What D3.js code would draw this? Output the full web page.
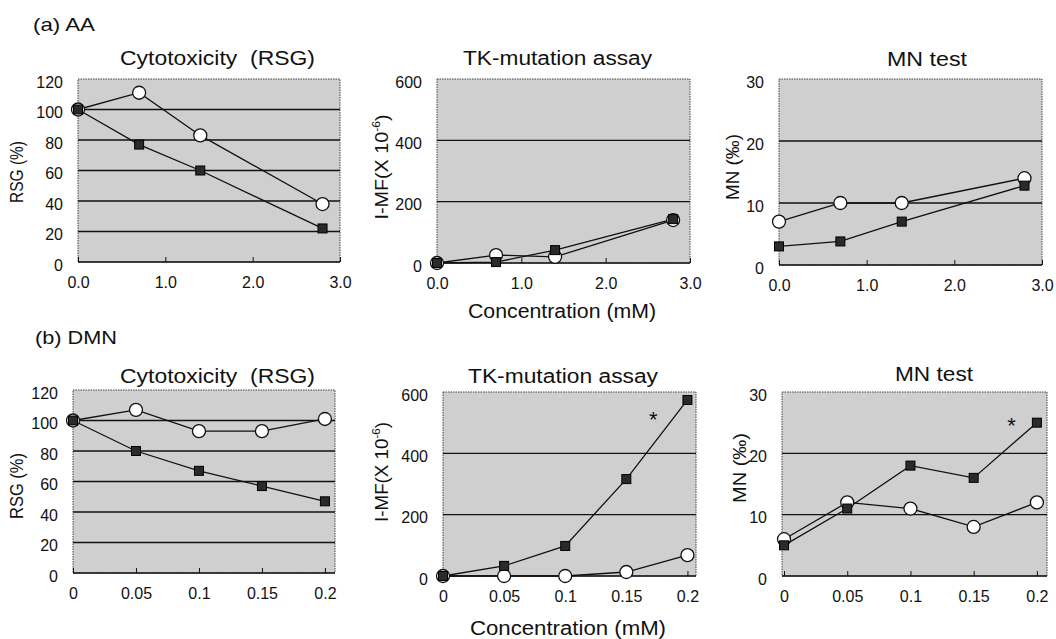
<!DOCTYPE html>
<html><head><meta charset="utf-8">
<script src="https://cdn.jsdelivr.net/npm/d3@7"></script>
<style>
html,body{margin:0;padding:0;background:#fff;}
svg{display:block;font-family:"Liberation Sans",Arial,sans-serif;}
text{white-space:pre;}
</style></head>
<body>
<svg id="c" width="1056" height="639"></svg>
<script>
// ---- data ----
const concA = [0, 0.7, 1.4, 2.8];
const concB = [0, 0.05, 0.1, 0.15, 0.2];
const aaRsgOpen   = [100, 111, 83, 38];
const aaRsgFilled = [100, 77, 60, 22];
const aaMfOpen    = [0, 26, 20, 140];
const aaMfFilled  = [0, 3, 42, 143];
const aaMnOpen    = [7, 10, 10, 14];
const aaMnFilled  = [3, 3.8, 7, 12.8];
const dmnRsgOpen   = [100, 107, 93, 93, 101];
const dmnRsgFilled = [100, 80, 67, 57, 47];
const dmnMfOpen    = [0, 0, 0, 13, 68];
const dmnMfFilled  = [0, 33, 98, 316, 574];
const dmnMnOpen    = [6, 12, 11, 8, 12];
const dmnMnFilled  = [5, 11, 18, 16, 25];
const xTicksA = [0, 1, 2, 3];
const xTickLabelsA = ["0.0", "1.0", "2.0", "3.0"];
const xTicksB = [0, 0.05, 0.1, 0.15, 0.2];
const xTickLabelsB = ["0", "0.05", "0.1", "0.15", "0.2"];
const yTicksRsg = [0, 20, 40, 60, 80, 100, 120];
const yTicksMf = [0, 200, 400, 600];
const yTicksMn = [0, 10, 20, 30];
const starMf = [0.172, 510];
const starMn = [0.18, 24.5];

const svg = d3.select("#c");

function fit(sel, len) {
  return sel.attr("textLength", len).attr("lengthAdjust", "spacingAndGlyphs");
}

const panels = [
  {box:[78,79,340,262], x:[0,3], xt:xTicksA, xl:xTickLabelsA, y:[0,120], yt:yTicksRsg, conc:concA, open:aaRsgOpen, filled:aaRsgFilled,
   title:"Cytotoxicity  (RSG)", tx:217.5, ty:65, tw:195, ylab:"RSG (%)", ylx:17, yly:172, ylw:62},
  {box:[437,79,690,263], x:[0,3], xt:xTicksA, xl:xTickLabelsA, y:[0,600], yt:yTicksMf, conc:concA, open:aaMfOpen, filled:aaMfFilled,
   title:"TK-mutation assay", tx:557.5, ty:65, tw:189, ylab:"mf", ylx:382, yly:167, ylw:105},
  {box:[779,79,1042,265], x:[0,3], xt:xTicksA, xl:xTickLabelsA, y:[0,30], yt:yTicksMn, conc:concA, open:aaMnOpen, filled:aaMnFilled,
   title:"MN test", tx:927, ty:66, tw:80, ylab:"MN (‰)", ylx:733, yly:167, ylw:66},
  {box:[73,390,335,573], x:[0,0.208], xt:xTicksB, xl:xTickLabelsB, y:[0,120], yt:yTicksRsg, conc:concB, open:dmnRsgOpen, filled:dmnRsgFilled,
   title:"Cytotoxicity  (RSG)", tx:217.5, ty:383, tw:195, ylab:"RSG (%)", ylx:17, yly:486, ylw:66},
  {box:[443,392,696,576], x:[0,0.207], xt:xTicksB, xl:xTickLabelsB, y:[0,600], yt:yTicksMf, conc:concB, open:dmnMfOpen, filled:dmnMfFilled,
   title:"TK-mutation assay", tx:563, ty:383, tw:190, ylab:"mf", ylx:382, yly:472, ylw:100, star:starMf},
  {box:[782,392,1047,576], x:[-0.0016,0.208], xt:xTicksB, xl:xTickLabelsB, y:[0,30], yt:yTicksMn, conc:concB, open:dmnMnOpen, filled:dmnMnFilled,
   title:"MN test", tx:934, ty:381, tw:78, ylab:"MN (‰)", ylx:740, yly:468, ylw:70, star:starMn}
];

panels.forEach(p => {
  const [x0,y0,x1,y1] = p.box;
  const xs = d3.scaleLinear().domain(p.x).range([x0,x1]);
  const ys = d3.scaleLinear().domain(p.y).range([y1,y0]);
  const g = svg.append("g");
  // background
  g.append("rect").attr("x",x0).attr("y",y0).attr("width",x1-x0).attr("height",y1-y0)
    .attr("fill","#cfcfcf").attr("stroke","#444").attr("stroke-width",1).attr("stroke-dasharray","1.5,1");
  // gridlines
  g.selectAll(".grid").data(p.yt.filter(v => v>p.y[0] && v<p.y[1])).enter().append("line")
    .attr("x1",x0).attr("x2",x1).attr("y1",d=>ys(d)).attr("y2",d=>ys(d))
    .attr("stroke","#111").attr("stroke-width",1.3);
  // bottom axis line
  g.append("line").attr("x1",x0).attr("x2",x1).attr("y1",y1).attr("y2",y1).attr("stroke","#111").attr("stroke-width",1.4);
  // x axis
  const xa = d3.axisBottom(xs).tickValues(p.xt).tickFormat((d,i)=>p.xl[i]).tickSizeInner(-5).tickSizeOuter(0).tickPadding(15);
  const gx = g.append("g").attr("transform",`translate(0,${y1})`).call(xa);
  gx.select(".domain").remove();
  gx.selectAll("line").attr("stroke","#111");
  gx.selectAll("text").attr("font-size",16).attr("fill","#111");
  // y axis
  const ya = d3.axisLeft(ys).tickValues(p.yt).tickSize(0).tickPadding(15);
  const gy = g.append("g").attr("transform",`translate(${x0},0)`).call(ya);
  gy.select(".domain").remove();
  gy.selectAll("text").attr("font-size",16).attr("fill","#111").attr("dy","0.5em");
  // title
  fit(g.append("text").attr("x",p.tx - p.tw/2).attr("y",p.ty).attr("font-size",20).attr("fill","#111").text(p.title), p.tw);
  // y label
  const yl = g.append("text").attr("transform",`translate(${p.ylx},${p.yly}) rotate(-90)`)
    .attr("x", -p.ylw/2).attr("dominant-baseline","central").attr("font-size",18).attr("fill","#111");
  if (p.ylab === "mf") {
    yl.append("tspan").text("I-MF(X 10");
    yl.append("tspan").attr("dy",-6).attr("font-size",11).text("-6");
    yl.append("tspan").attr("dy",6).text(")");
  } else yl.text(p.ylab);
  fit(yl, p.ylw);
  // lines + markers
  const line = d3.line().x((d,i)=>xs(p.conc[i])).y(d=>ys(d));
  g.append("path").datum(p.open).attr("d",line).attr("fill","none").attr("stroke","#111").attr("stroke-width",1.3);
  g.append("path").datum(p.filled).attr("d",line).attr("fill","none").attr("stroke","#111").attr("stroke-width",1.3);
  g.selectAll(".o").data(p.open).enter().append("circle")
    .attr("cx",(d,i)=>xs(p.conc[i])).attr("cy",d=>ys(d)).attr("r",6.5)
    .attr("fill","#fff").attr("stroke","#111").attr("stroke-width",1.3);
  g.selectAll(".s").data(p.filled).enter().append("rect")
    .attr("x",(d,i)=>xs(p.conc[i])-4.5).attr("y",d=>ys(d)-4.5).attr("width",9).attr("height",9)
    .attr("fill","#2a2a2a").attr("stroke","#000").attr("stroke-width",1);
  if (p.star) {
    g.append("text").attr("x",xs(p.star[0])).attr("y",ys(p.star[1])).attr("text-anchor","middle")
      .attr("dominant-baseline","central").attr("font-size",22).attr("fill","#111").text("*");
  }
});

// section labels
fit(svg.append("text").attr("x",33).attr("y",31).attr("font-size",19).attr("fill","#111").text("(a) AA"), 62);
fit(svg.append("text").attr("x",35).attr("y",344).attr("font-size",19).attr("fill","#111").text("(b) DMN"), 82);
fit(svg.append("text").attr("x",468).attr("y",318).attr("font-size",20).attr("fill","#111").text("Concentration (mM)"), 188);
fit(svg.append("text").attr("x",470).attr("y",635).attr("font-size",20).attr("fill","#111").text("Concentration (mM)"), 196);
</script>
</body></html>
